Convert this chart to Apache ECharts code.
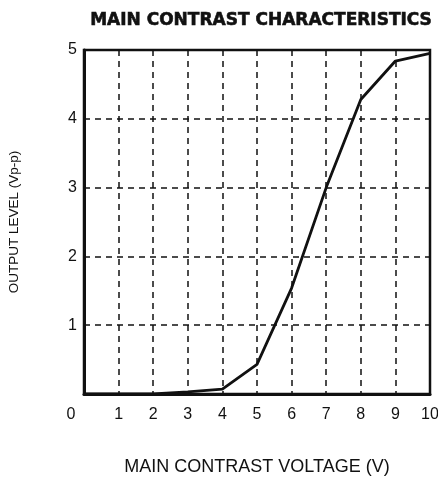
<!DOCTYPE html>
<html>
<head>
<meta charset="utf-8">
<script src="https://cdn.jsdelivr.net/npm/echarts@6/dist/echarts.min.js"></script>
<style>html,body{margin:0;padding:0;background:#fff}#c{width:438px;height:477px}</style>
</head>
<body>
<div id="c"></div>
<script>
const titleText = "MAIN CONTRAST CHARACTERISTICS";
const xName = "MAIN CONTRAST VOLTAGE (V)";
const yName = "OUTPUT LEVEL (Vp-p)";
const voltage = [0, 1, 2, 3, 4, 5, 6, 7, 8, 9, 10];
const outputLevel = [0, 0, 0, 0.03, 0.07, 0.43, 1.54, 3.0, 4.28, 4.84, 4.95];

const chart = echarts.init(document.getElementById('c'), null, {renderer: 'canvas'});
const ink = '#111';
const font = '"Liberation Sans", Arial, sans-serif';
chart.setOption({
  animation: false,
  backgroundColor: '#fff',
  title: {
    text: titleText, left: 256, top: 7, textAlign: 'center',
    textStyle: {fontFamily: '"DejaVu Sans", sans-serif', fontSize: 17, fontWeight: 'bold', color: ink,
      textBorderColor: ink, textBorderWidth: 0.6}
  },
  grid: {left: 84, right: 8, top: 50, bottom: 83, show: true, borderColor: ink, borderWidth: 2.5,
    containLabel: false, outerBoundsMode: 'none'},
  xAxis: {
    type: 'value', min: 0, max: 10, interval: 1,
    name: xName, nameLocation: 'middle', nameGap: 64,
    nameTextStyle: {fontFamily: font, fontSize: 18, color: ink},
    axisLine: {show: true, onZero: false, lineStyle: {color: ink, width: 3}},
    axisTick: {show: false},
    axisLabel: {fontFamily: font, fontSize: 16, color: ink, margin: 13,
      formatter: v => v === 0 ? '{z|0}' : String(v),
      rich: {z: {fontFamily: font, fontSize: 16, color: ink, padding: [0, 26, 0, 0]}}},
    splitLine: {show: true, lineStyle: {color: ink, width: 1.5, type: [6, 5]}}
  },
  yAxis: {
    type: 'value', min: 0, max: 5, interval: 1,
    name: yName, nameLocation: 'middle', nameGap: 63,
    nameTextStyle: {fontFamily: font, fontSize: 13.5, color: ink},
    axisLine: {show: true, onZero: false, lineStyle: {color: ink, width: 3}},
    axisTick: {show: false},
    axisLabel: {fontFamily: font, fontSize: 16, color: ink, margin: 7,
      formatter: v => v === 0 ? '' : String(v)},
    splitLine: {show: true, lineStyle: {color: ink, width: 1.5, type: [6, 5]}}
  },
  series: [{
    type: 'line',
    data: voltage.map((v, i) => [v, outputLevel[i]]),
    showSymbol: false, symbol: 'none',
    lineStyle: {color: ink, width: 2.8},
    z: 5
  }]
});
</script>
</body>
</html>
